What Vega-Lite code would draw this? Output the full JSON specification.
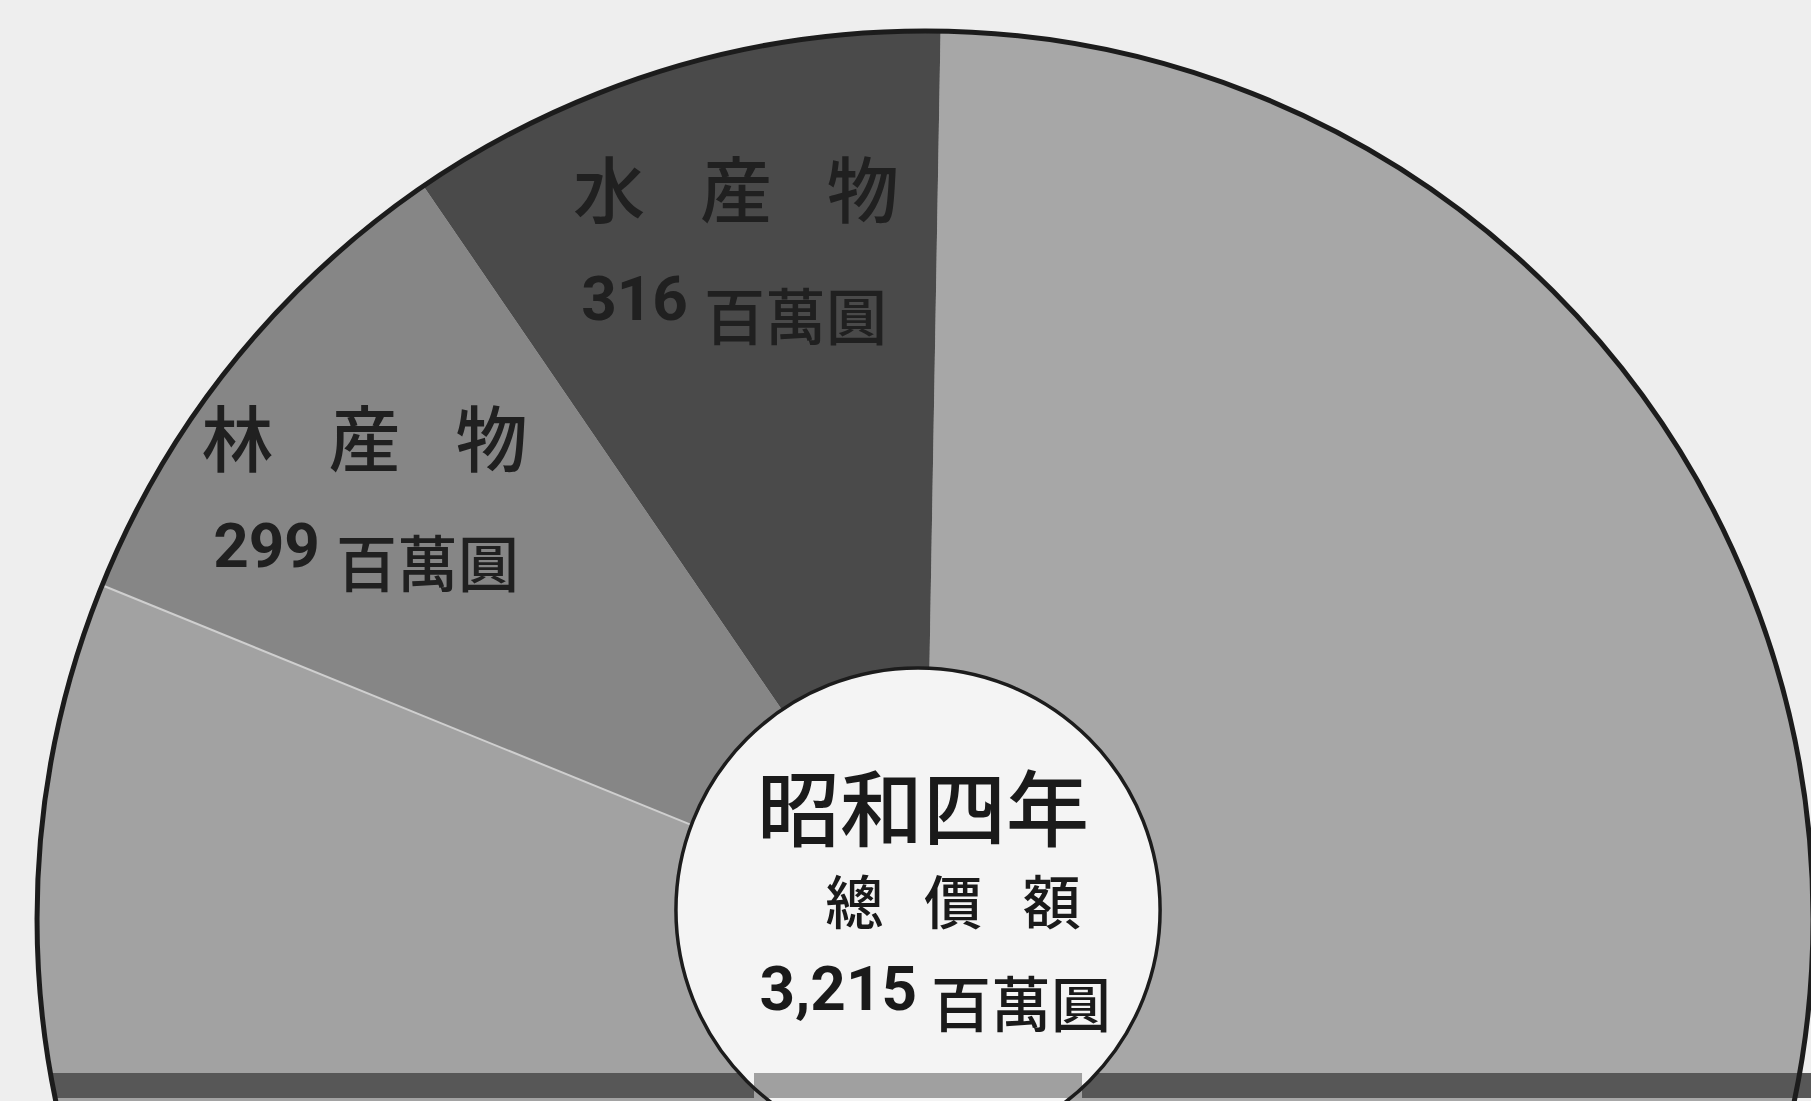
{
  "$schema": "https://vega.github.io/schema/vega-lite/v6.json",
  "width": 1811,
  "height": 1101,
  "autosize": {"type": "none"},
  "padding": 0,
  "background": "#eeeeee",
  "config": {"view": {"stroke": null}},
  "datasets": {
    "slices": [
      {"name": "農産物", "value": 1900, "ord": 1},
      {"name": "蠶繭", "value": 700, "ord": 2},
      {"name": "林産物", "value": 299, "ord": 3},
      {"name": "水産物", "value": 316, "ord": 4}
    ],
    "total": [
      {"year": "昭和四年", "caption": "總價額", "total": 3215, "unit": "百萬圓"}
    ]
  },
  "encoding": {
    "x": {"datum": 0, "type": "quantitative", "scale": {"domain": [-1.0417, 0.9977]}, "axis": null},
    "y": {"datum": 0, "type": "quantitative", "scale": {"domain": [-0.205, 1.0349]}, "axis": null}
  },
  "layer": [
    {
      "data": {"name": "slices"},
      "mark": {"type": "arc", "outerRadius": 888, "clip": true, "strokeWidth": 4},
      "encoding": {
        "theta": {"field": "value", "type": "quantitative", "stack": true, "scale": {"range": [0.01745, 6.30064]}},
        "order": {"field": "ord", "type": "quantitative"},
        "color": {
          "field": "name", "type": "nominal", "legend": null,
          "scale": {"domain": ["農産物", "蠶繭", "林産物", "水産物"], "range": ["#a7a7a7", "#a2a2a2", "#868686", "#4a4a4a"]}
        },
        "stroke": {"condition": {"test": "datum.name === '蠶繭'", "value": "#cfcfcf"}, "value": "transparent"}
      }
    },
    {
      "data": {"values": [{}]},
      "mark": {"type": "rect", "color": "#575757", "clip": true},
      "encoding": {
        "x": {"datum": -0.982, "type": "quantitative"},
        "x2": {"datum": 1.0},
        "y": {"datum": -0.1734, "type": "quantitative"},
        "y2": {"datum": -0.2016}
      }
    },
    {
      "data": {"values": [{}]},
      "mark": {"type": "arc", "outerRadius": 888, "theta": 0, "theta2": 6.2832, "fill": null, "fillOpacity": 0, "stroke": "#1c1c1c", "strokeWidth": 5, "clip": true}
    },
    {
      "data": {"values": [{}]},
      "mark": {"type": "arc", "outerRadius": 242, "theta": 0, "theta2": 6.2832, "fill": "#f4f4f4", "clip": true},
      "encoding": {
        "x": {"datum": -0.0079, "type": "quantitative"},
        "y": {"datum": 0.0101, "type": "quantitative"}
      }
    },
    {
      "data": {"values": [{}]},
      "mark": {"type": "rect", "color": "#a0a0a0", "clip": true},
      "encoding": {
        "x": {"datum": -0.1926, "type": "quantitative"},
        "x2": {"datum": 0.1768},
        "y": {"datum": -0.1734, "type": "quantitative"},
        "y2": {"datum": -0.2016}
      }
    },
    {
      "data": {"values": [{}]},
      "mark": {"type": "arc", "outerRadius": 242, "theta": 0, "theta2": 6.2832, "fill": null, "fillOpacity": 0, "stroke": "#1c1c1c", "strokeWidth": 3.5, "clip": true},
      "encoding": {
        "x": {"datum": -0.0079, "type": "quantitative"},
        "y": {"datum": 0.0101, "type": "quantitative"}
      }
    },
    {
      "data": {"name": "slices"},
      "transform": [{"calculate": "join(split(datum.name, ''), '\u2002\u2009\u200a')", "as": "spaced"}],
      "mark": {"type": "text", "radius": 756, "dx": 28, "dy": 0, "fontSize": 72, "fontWeight": 500, "font": "Noto Sans CJK JP", "align": "center", "baseline": "middle", "fill": "#202020"},
      "encoding": {
        "theta": {"field": "value", "type": "quantitative", "stack": true, "scale": {"range": [0.01745, 6.30064]}},
        "order": {"field": "ord", "type": "quantitative"},
        "text": {"condition": {"test": "datum.ord < 3", "value": ""}, "field": "spaced", "type": "nominal"}
      }
    },
    {
      "data": {"name": "slices"},
      "mark": {"type": "text", "radius": 749, "dx": -22, "dy": 99, "fontSize": 62, "fontWeight": "bold", "font": "Liberation Sans Narrow, Roboto, sans-serif", "align": "right", "baseline": "middle", "fill": "#202020"},
      "encoding": {
        "theta": {"field": "value", "type": "quantitative", "stack": true, "scale": {"range": [0.01745, 6.30064]}},
        "order": {"field": "ord", "type": "quantitative"},
        "text": {"condition": {"test": "datum.ord < 3", "value": ""}, "field": "value", "type": "quantitative"}
      }
    },
    {
      "data": {"name": "slices"},
      "mark": {"type": "text", "radius": 749, "dx": -6, "dy": 120, "fontSize": 61, "fontWeight": 500, "font": "Noto Sans CJK JP", "align": "left", "baseline": "middle", "fill": "#202020"},
      "encoding": {
        "theta": {"field": "value", "type": "quantitative", "stack": true, "scale": {"range": [0.01745, 6.30064]}},
        "order": {"field": "ord", "type": "quantitative"},
        "text": {"condition": {"test": "datum.ord >= 3", "value": "百萬圓"}, "value": ""}
      }
    },
    {
      "data": {"name": "total"},
      "mark": {"type": "text", "dx": -2, "dy": -104, "fontSize": 83, "fontWeight": 500, "font": "Noto Sans CJK JP", "align": "center", "baseline": "middle", "fill": "#1a1a1a"},
      "encoding": {"text": {"field": "year", "type": "nominal"}}
    },
    {
      "data": {"name": "total"},
      "transform": [{"calculate": "join(split(datum.caption, ''), '\u2002\u2009')", "as": "spaced"}],
      "mark": {"type": "text", "dx": 28, "dy": -12, "fontSize": 58, "fontWeight": 500, "font": "Noto Sans CJK JP", "align": "center", "baseline": "middle", "fill": "#1a1a1a"},
      "encoding": {"text": {"field": "spaced", "type": "nominal"}}
    },
    {
      "data": {"name": "total"},
      "mark": {"type": "text", "dx": -8, "dy": 72, "fontSize": 62, "fontWeight": "bold", "font": "Liberation Sans Narrow, Roboto, sans-serif", "align": "right", "baseline": "middle", "fill": "#1a1a1a"},
      "encoding": {"text": {"field": "total", "type": "quantitative", "format": ","}}
    },
    {
      "data": {"name": "total"},
      "mark": {"type": "text", "dx": 6, "dy": 90, "fontSize": 60, "fontWeight": 500, "font": "Noto Sans CJK JP", "align": "left", "baseline": "middle", "fill": "#1a1a1a"},
      "encoding": {"text": {"field": "unit", "type": "nominal"}}
    }
  ]
}
